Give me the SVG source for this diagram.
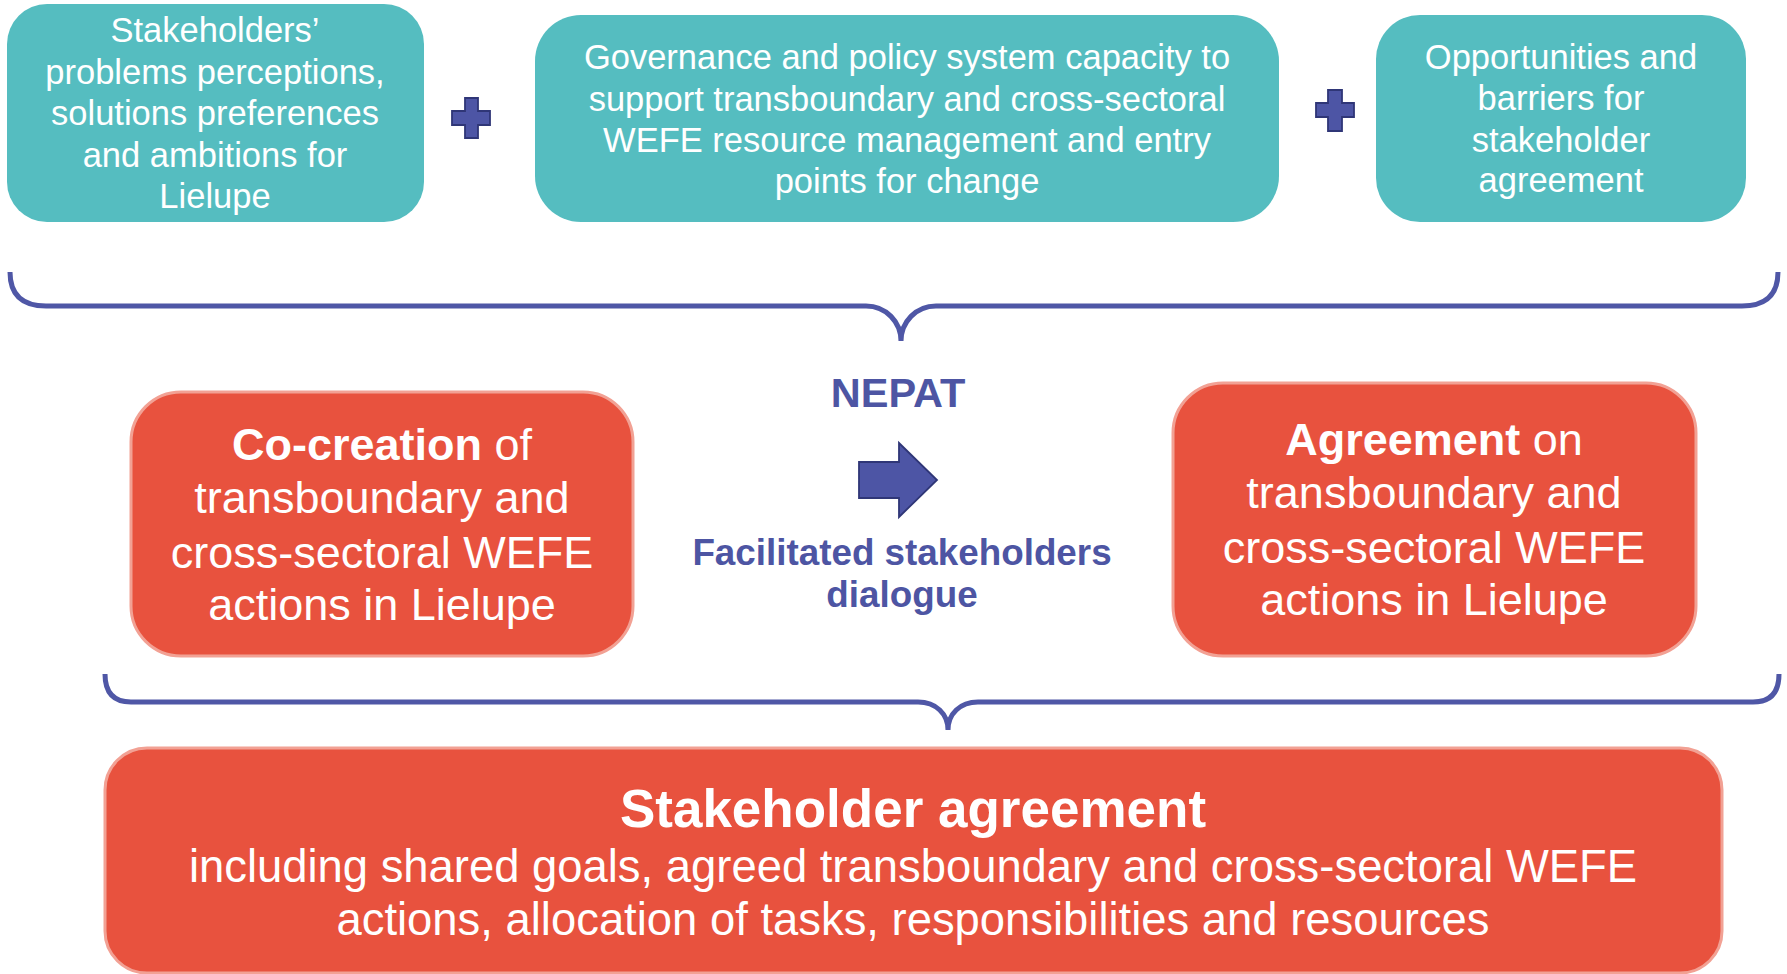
<svg xmlns="http://www.w3.org/2000/svg" width="1787" height="974" viewBox="0 0 1787 974">
<style>
.teal{fill:#55bdc0;}
.red{fill:#e8523e;stroke:#f2a194;stroke-width:3;}
.wt{fill:#ffffff;font-family:"Liberation Sans",Arial,sans-serif;text-anchor:middle;}
.t34{font-size:34.5px;}
.t45{font-size:45px;}
.b{font-weight:bold;}
.blue{fill:#4d55a3;font-family:"Liberation Sans",Arial,sans-serif;font-weight:bold;text-anchor:middle;}
.brace{fill:none;stroke:#4f57a6;stroke-width:5;stroke-linecap:butt;}
.sym{fill:#4d55a5;stroke:#2f3677;stroke-width:1.8;stroke-linejoin:miter;}
</style>
<rect width="1787" height="974" fill="#ffffff"/>

<g id="box-stakeholders">
<rect class="teal" x="7" y="4" width="417" height="218" rx="40" ry="40"/>
<text class="wt t34" x="215" y="42">Stakeholders’</text>
<text class="wt t34" x="215" y="84">problems perceptions,</text>
<text class="wt t34" x="215" y="125">solutions preferences</text>
<text class="wt t34" x="215" y="167">and ambitions for</text>
<text class="wt t34" x="215" y="208">Lielupe</text>
</g>

<g id="plus-1">
<polygon class="sym" points="465,98 478,98 478,111 490,111 490,125 478,125 478,138 465,138 465,125 452,125 452,111 465,111"/>
</g>

<g id="box-governance">
<rect class="teal" x="535" y="15" width="744" height="207" rx="46" ry="46"/>
<text class="wt t34" x="907" y="69">Governance and policy system capacity to</text>
<text class="wt t34" x="907" y="111">support transboundary and cross-sectoral</text>
<text class="wt t34" x="907" y="152">WEFE resource management and entry</text>
<text class="wt t34" x="907" y="193">points for change</text>
</g>

<g id="plus-2">
<polygon class="sym" points="1328,90 1342,90 1342,103 1354,103 1354,117 1342,117 1342,131 1328,131 1328,117 1316,117 1316,103 1328,103"/>
</g>

<g id="box-opportunities">
<rect class="teal" x="1376" y="15" width="370" height="207" rx="44" ry="44"/>
<text class="wt t34" x="1561" y="69">Opportunities and</text>
<text class="wt t34" x="1561" y="110">barriers for</text>
<text class="wt t34" x="1561" y="152">stakeholder</text>
<text class="wt t34" x="1561" y="192">agreement</text>
</g>

<g id="connectors">
<path class="brace" d="M10,272 C10,295 22,306 46,306 L866,306 C886,306 901,322 901,341 C901,322 916,306 936,306 L1742,306 C1766,306 1778,295 1778,272"/>
<path class="brace" d="M105,674 C105,692 113,702 131,702 L918,702 C936,702 948,714 948,730 C948,714 960,702 978,702 L1753,702 C1771,702 1779,692 1779,674"/>
</g>

<g id="nepat">
<text class="blue" x="898" y="407" font-size="41.5">NEPAT</text>
<polygon class="sym" points="859,462 899,462 899,443 937,480 899,517 899,498 859,498"/>
<text class="blue" x="902" y="565" font-size="36.8">Facilitated stakeholders</text>
<text class="blue" x="902" y="607" font-size="36.8">dialogue</text>
</g>

<g id="box-cocreation">
<rect class="red" x="131" y="392" width="502" height="264" rx="50" ry="50"/>
<text class="wt t45" x="382" y="460"><tspan class="b">Co-creation</tspan> of</text>
<text class="wt t45" x="382" y="513">transboundary and</text>
<text class="wt t45" x="382" y="568">cross-sectoral WEFE</text>
<text class="wt t45" x="382" y="620">actions in Lielupe</text>
</g>

<g id="box-agreement">
<rect class="red" x="1173" y="383" width="523" height="273" rx="50" ry="50"/>
<text class="wt t45" x="1434" y="455"><tspan class="b">Agreement</tspan> on</text>
<text class="wt t45" x="1434" y="508">transboundary and</text>
<text class="wt t45" x="1434" y="563">cross-sectoral WEFE</text>
<text class="wt t45" x="1434" y="615">actions in Lielupe</text>
</g>

<g id="box-stakeholder-agreement">
<rect class="red" x="105" y="748" width="1617" height="225" rx="42" ry="42"/>
<text class="wt b" x="913" y="827" font-size="53">Stakeholder agreement</text>
<text class="wt" x="913" y="882" font-size="45.4">including shared goals, agreed transboundary and cross-sectoral WEFE</text>
<text class="wt" x="913" y="935" font-size="45.4">actions, allocation of tasks, responsibilities and resources</text>
</g>
</svg>
